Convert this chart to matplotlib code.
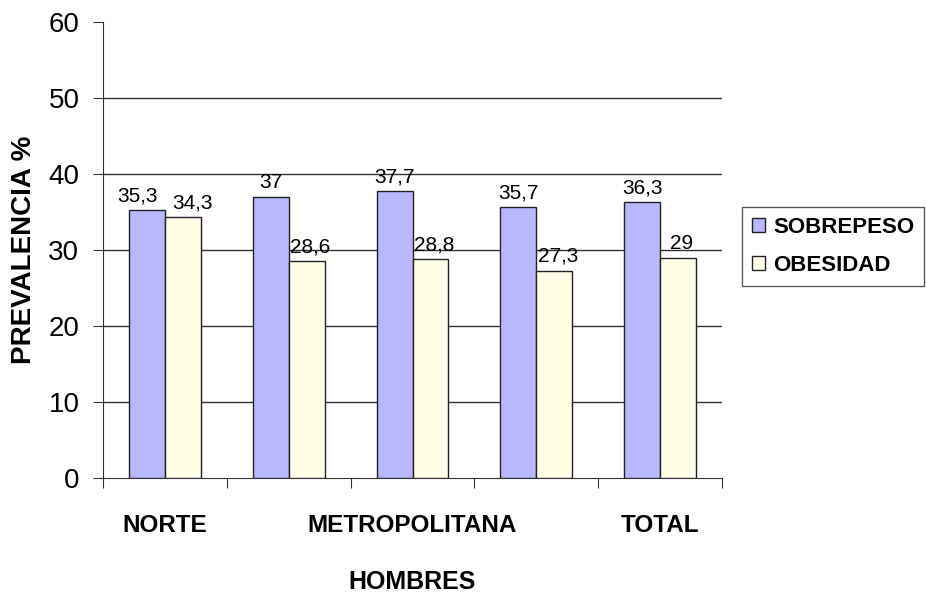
import matplotlib
matplotlib.use("Agg")
import matplotlib.pyplot as plt
import numpy as np

categories = ["NORTE", "", "METROPOLITANA", "", "TOTAL"]
sobrepeso = [35.3, 37, 37.7, 35.7, 36.3]
obesidad = [34.3, 28.6, 28.8, 27.3, 29]
sob_labels = ["35,3", "37", "37,7", "35,7", "36,3"]
obe_labels = ["34,3", "28,6", "28,8", "27,3", "29"]
yticks = [0, 10, 20, 30, 40, 50, 60]

plt.rcParams['font.family'] = ['Liberation Sans', 'DejaVu Sans']

fig = plt.figure(figsize=(9.28, 5.93), dpi=100)
ax = fig.add_axes([103/928, 1-478/593, (722-103)/928, (478-22)/593])

x = np.arange(len(categories))
w = 0.29
b1 = ax.bar(x - w/2, sobrepeso, w, color="#B8B8FF", edgecolor="#222222", linewidth=1.0, zorder=3, label="SOBREPESO")
b2 = ax.bar(x + w/2, obesidad, w, color="#FFFFE8", edgecolor="#222222", linewidth=1.0, zorder=3, label="OBESIDAD")

for i, (rect, lab) in enumerate(zip(b1, sob_labels)):
    dx = -0.08 if i == 0 else 0.0
    ax.text(rect.get_x() + rect.get_width()/2 + dx, rect.get_height() + 0.6, lab,
            ha="center", va="bottom", fontsize=15)
for i, (rect, lab) in enumerate(zip(b2, obe_labels)):
    dx = 0.08 if i == 0 else 0.03
    ax.text(rect.get_x() + rect.get_width()/2 + dx, rect.get_height() + 0.6, lab,
            ha="center", va="bottom", fontsize=15)

ax.set_xlim(-0.5, len(categories) - 0.5)
ax.set_ylim(0, 60)
ax.set_yticks(yticks)
ax.set_yticklabels([str(v) for v in yticks], fontsize=20)
for v in yticks[1:-1]:
    ax.axhline(v, color="#333333", linewidth=1.0, zorder=1)

ax.set_xticks(np.arange(-0.5, len(categories)), minor=False)
ax.set_xticklabels([])
ax.set_xticks(x, minor=True)
ax.set_xticklabels(categories, minor=True, fontsize=17.5, fontweight="bold")
ax.tick_params(axis="x", which="minor", length=0, pad=26)
ax.tick_params(axis="x", which="major", length=7, direction="out", color="#333333")
ax.tick_params(axis="y", length=7, direction="out", color="#333333", pad=10)

for s in ["top", "right"]:
    ax.spines[s].set_visible(False)
for s in ["left", "bottom"]:
    ax.spines[s].set_color("#333333")

ax.set_xlabel("HOMBRES", fontsize=18, fontweight="bold", labelpad=24)
ax.set_ylabel("PREVALENCIA %", fontsize=20, fontweight="bold", labelpad=8)

leg = fig.legend(handles=[b1, b2], loc="upper left", bbox_to_anchor=(742/928, 1-207/593),
                 frameon=True, fancybox=False, edgecolor="#333333", handlelength=0.6,
                 handleheight=0.6, handletextpad=0.35, borderpad=0.45, labelspacing=0.75,
                 borderaxespad=0.0, prop={"weight": "bold", "size": 16})
leg.get_frame().set_linewidth(1.0)

fig.savefig("out.png", dpi=100)
